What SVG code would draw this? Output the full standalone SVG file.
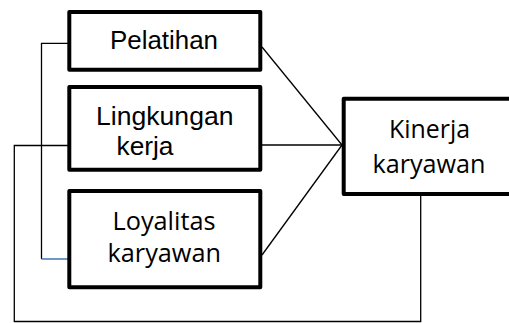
<svg xmlns="http://www.w3.org/2000/svg" width="509" height="323" viewBox="0 0 509 323">
<style>
.box{fill:#fff;stroke:#000;stroke-width:4;stroke-linejoin:round}
.ln{fill:none;stroke:#000;stroke-width:1.3}
.blue{fill:none;stroke:#4a7ebb;stroke-width:1.6}
.ar{font-family:"Liberation Sans",Arial,sans-serif;font-size:26px;fill:#000}
.ca{font-family:"Open Sans","Noto Sans",sans-serif;font-size:25px;fill:#000}
</style>
<rect width="509" height="323" fill="#fff"/>
<g id="connectors">
<polyline class="ln" points="69,43.3 41.5,43.3 41.5,259"/>
<line class="blue" x1="41.5" y1="259" x2="68" y2="259"/>
<polyline class="ln" points="69,145.5 14.3,145.5 14.3,321.5 420.7,321.5 420.7,196"/>
<line class="ln" x1="262" y1="47" x2="342" y2="145"/>
<line class="ln" x1="262" y1="145" x2="342" y2="145"/>
<line class="ln" x1="262" y1="255" x2="342" y2="145"/>
</g>
<g id="pelatihan">
<rect class="box" x="69.3" y="12" width="191" height="57.7"/>
<text class="ar" x="110" y="49.3" textLength="108" lengthAdjust="spacingAndGlyphs">Pelatihan</text>
</g>
<g id="lingkungan">
<rect class="box" x="69.3" y="87" width="191" height="82.7"/>
<text class="ar" x="96" y="125" textLength="137.5" lengthAdjust="spacingAndGlyphs">Lingkungan</text>
<text class="ar" x="116.5" y="155" textLength="57" lengthAdjust="spacingAndGlyphs">kerja</text>
</g>
<g id="loyalitas">
<rect class="box" x="69.3" y="191" width="191" height="96.3"/>
<text class="ca" x="112.5" y="230" textLength="103" lengthAdjust="spacingAndGlyphs">Loyalitas</text>
<text class="ca" x="107.5" y="261.7" textLength="113.5" lengthAdjust="spacingAndGlyphs">karyawan</text>
</g>
<g id="kinerja">
<rect class="box" x="343.7" y="98.7" width="172" height="95.3"/>
<text class="ca" x="389" y="138.3" textLength="81" lengthAdjust="spacingAndGlyphs">Kinerja</text>
<text class="ca" x="372.5" y="172.7" textLength="113" lengthAdjust="spacingAndGlyphs">karyawan</text>
</g>
</svg>
